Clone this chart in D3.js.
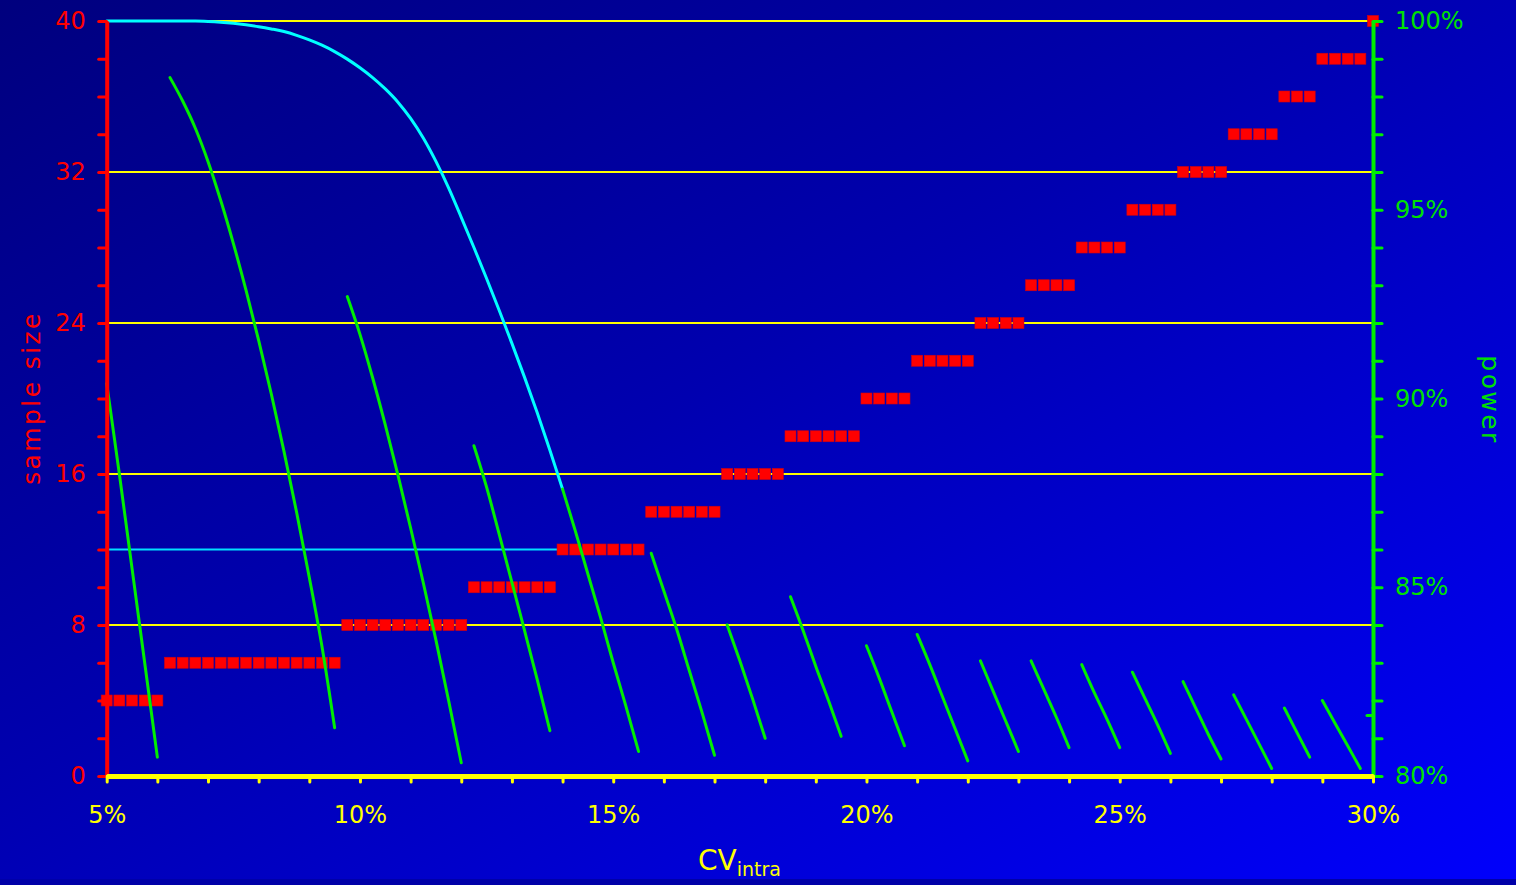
<!DOCTYPE html>
<html>
<head>
<meta charset="utf-8">
<script src="https://cdn.jsdelivr.net/npm/d3@7"></script>
<style>
html,body{margin:0;padding:0;overflow:hidden;background:#000088;}
text{font-family:"DejaVu Sans",Verdana,sans-serif;}
</style>
</head>
<body>
<svg id="chart" width="1516" height="885"></svg>
<script>
// ---------- data ----------
const cvValues = [5,5.25,5.5,5.75,6,6.25,6.5,6.75,7,7.25,7.5,7.75,8,8.25,8.5,8.75,9,9.25,9.5,9.75,
  10,10.25,10.5,10.75,11,11.25,11.5,11.75,12,12.25,12.5,12.75,13,13.25,13.5,13.75,14,14.25,14.5,14.75,
  15,15.25,15.5,15.75,16,16.25,16.5,16.75,17,17.25,17.5,17.75,18,18.25,18.5,18.75,19,19.25,19.5,19.75,
  20,20.25,20.5,20.75,21,21.25,21.5,21.75,22,22.25,22.5,22.75,23,23.25,23.5,23.75,24,24.25,24.5,24.75,
  25,25.25,25.5,25.75,26,26.25,26.5,26.75,27,27.25,27.5,27.75,28,28.25,28.5,28.75,29,29.25,29.5,29.75,30];

const sampleSize = [4,4,4,4,4,
  6,6,6,6,6,6,6,6,6,6,6,6,6,6,
  8,8,8,8,8,8,8,8,8,8,
  10,10,10,10,10,10,10,
  12,12,12,12,12,12,12,
  14,14,14,14,14,14,
  16,16,16,16,16,
  18,18,18,18,18,18,
  20,20,20,20,
  22,22,22,22,22,
  24,24,24,24,
  26,26,26,26,
  28,28,28,28,
  30,30,30,30,
  32,32,32,32,
  34,34,34,34,
  36,36,36,
  38,38,38,38,
  40];

const power = [90.4,88.0,85.5,83.0,80.5,
  98.5,97.88,97.16,96.28,95.25,94.11,92.87,91.54,90.12,88.6,86.98,85.26,83.43,81.28,
  92.7,91.7,90.55,89.3,87.97,86.57,85.12,83.6,82.0,80.35,
  88.75,87.65,86.4,85.13,83.85,82.55,81.2,
  87.6,86.5,85.35,84.2,83.0,81.85,80.65,
  85.9,84.9,83.9,82.8,81.7,80.55,
  84.0,83.05,82.05,81.0,null,
  84.75,83.85,82.9,82.0,81.05,null,
  83.45,82.6,81.7,80.8,
  83.75,82.95,82.1,81.25,80.4,
  83.05,82.25,81.45,80.65,
  83.05,82.3,81.55,80.75,
  82.95,82.2,81.5,80.75,
  82.75,82.05,81.35,80.6,
  82.5,81.8,81.1,80.45,
  82.15,81.5,80.85,80.2,
  81.8,81.15,80.5,
  82.0,81.4,80.8,80.2,
  81.6];

// power with the fixed sample size of 12 (cyan curve), CV 5% .. 14%
const fixedSize = 12;
const fixedSizeCvEnd = 14;
const powerFixed = [100,100,100,100,100,100,100,100,99.99,99.97,99.94,99.9,99.85,99.79,99.72,99.62,
  99.5,99.36,99.19,98.99,98.76,98.5,98.2,97.85,97.42,96.9,96.28,95.58,94.8,94.0,93.18,92.33,
  91.46,90.56,89.62,88.63,87.6];

const cvTicks = [5,6,7,8,9,10,11,12,13,14,15,16,17,18,19,20,21,22,23,24,25,26,27,28,29,30];
const cvLabelled = [5,10,15,20,25,30];
const sampleTicks = [0,2,4,6,8,10,12,14,16,18,20,22,24,26,28,30,32,34,36,38,40];
const sampleLabelled = [0,8,16,24,32,40];
const powerTicks = [80,81,82,83,84,85,86,87,88,89,90,91,92,93,94,95,96,97,98,99,100];
const powerLabelled = [80,85,90,95,100];
const gridValues = [8,16,24,32,40];

// ---------- layout ----------
const W = 1516, H = 885;
const L = 106.7, R = 1373, T = 21, B = 776;
const svg = d3.select("#chart");

const x = d3.scaleLinear().domain([5,30]).range([L,R]);
const yS = d3.scaleLinear().domain([0,40]).range([B,T]);
const yP = d3.scaleLinear().domain([80,100]).range([B,T]);

// background
const defs = svg.append("defs");
const grad = defs.append("linearGradient").attr("id","bg")
  .attr("x1","0").attr("y1","0").attr("x2","1").attr("y2","1");
grad.append("stop").attr("offset","0%").attr("stop-color","#00007e");
grad.append("stop").attr("offset","45%").attr("stop-color","#0000b0");
grad.append("stop").attr("offset","100%").attr("stop-color","#0000fc");
svg.append("rect").attr("width",W).attr("height",H).attr("fill","url(#bg)");
svg.append("rect").attr("x",0).attr("y",879).attr("width",W).attr("height",6).attr("fill","#0000a8");

// grid lines
svg.append("g").selectAll("line").data(gridValues).join("line")
  .attr("x1",L).attr("x2",R).attr("y1",d=>yS(d)).attr("y2",d=>yS(d))
  .attr("stroke","#ffff00").attr("stroke-width",2);

// cyan reference line at fixed sample size
svg.append("line")
  .attr("x1",x(5)).attr("x2",x(fixedSizeCvEnd))
  .attr("y1",yS(fixedSize)).attr("y2",yS(fixedSize))
  .attr("stroke","#00e0ff").attr("stroke-width",2);

// sample size squares
const pts = cvValues.map((cv,i)=>({cv, n:sampleSize[i], p:power[i]}));
const sq = 11;
svg.append("g").selectAll("rect").data(pts).join("rect")
  .attr("x",d=>x(d.cv)-sq/2).attr("y",d=>yS(d.n)-sq/2)
  .attr("width",sq).attr("height",sq)
  .attr("fill","#ff0000").attr("stroke","#d00010").attr("stroke-width",0.6);

// cyan power curve for fixed sample size
const fixedPts = powerFixed.map((p,i)=>({cv:cvValues[i], p}));
const line = d3.line().defined(d=>d.p!=null).x(d=>x(d.cv)).y(d=>yP(d.p)).curve(d3.curveMonotoneX);
svg.append("path").datum(fixedPts).attr("d",line)
  .attr("fill","none").attr("stroke","#00ffff").attr("stroke-width",3).attr("stroke-linecap","round");

// green power curves, one per sample size
const groups = d3.groups(pts, d=>d.n);
const gG = svg.append("g");
groups.forEach(([n, arr])=>{
  const valid = arr.filter(d=>d.p!=null);
  if (valid.length > 1) {
    gG.append("path").datum(arr).attr("d",line)
      .attr("fill","none").attr("stroke","#00ee00").attr("stroke-width",3)
      .attr("stroke-linecap","round");
  } else if (valid.length === 1) {
    const d = valid[0];
    gG.append("line").attr("x1",x(d.cv)-6).attr("x2",x(d.cv)).attr("y1",yP(d.p)).attr("y2",yP(d.p))
      .attr("stroke","#00ee00").attr("stroke-width",3).attr("stroke-linecap","round");
  }
});

// left axis (sample size)
const axL = svg.append("g").attr("transform",`translate(${L},0)`)
  .call(d3.axisLeft(yS).tickValues(sampleTicks).tickSize(8).tickSizeOuter(0).tickPadding(13)
    .tickFormat(d=>sampleLabelled.includes(d)? d : ""));
axL.select(".domain").attr("stroke","#ff0000").attr("stroke-width",4);
axL.selectAll(".tick line").attr("stroke","#ff0000").attr("stroke-width",3).attr("stroke-linecap","round");
axL.selectAll(".tick text").attr("fill","#ff0000").attr("font-size",24)
  .attr("font-family","DejaVu Sans, Verdana, sans-serif");

// right axis (power)
const axR = svg.append("g").attr("transform",`translate(${R},0)`)
  .call(d3.axisRight(yP).tickValues(powerTicks).tickSize(9).tickSizeOuter(0).tickPadding(13)
    .tickFormat(d=>powerLabelled.includes(d)? d+"%" : ""));
axR.select(".domain").attr("stroke","#00ee00").attr("stroke-width",4);
axR.selectAll(".tick line").attr("stroke","#00ee00").attr("stroke-width",3).attr("stroke-linecap","round");
axR.selectAll(".tick text").attr("fill","#00e000").attr("font-size",24)
  .attr("font-family","DejaVu Sans, Verdana, sans-serif");

// bottom axis (CV)
const axB = svg.append("g").attr("transform",`translate(0,${B})`)
  .call(d3.axisBottom(x).tickValues(cvTicks).tickSize(6).tickSizeOuter(0).tickPadding(24)
    .tickFormat(d=>cvLabelled.includes(d)? d+"%" : ""));
axB.select(".domain").attr("stroke","#ffff00").attr("stroke-width",5);
axB.selectAll(".tick line").attr("stroke","#ffff00").attr("stroke-width",3).attr("stroke-linecap","round");
axB.selectAll(".tick text").attr("fill","#ffff00").attr("font-size",24)
  .attr("font-family","DejaVu Sans, Verdana, sans-serif");

// axis titles
svg.append("text").attr("transform","translate(40,398) rotate(-90)")
  .attr("text-anchor","middle").attr("fill","#ff0000").attr("font-size",25)
  .attr("letter-spacing","2.4px").text("sample size");
svg.append("text").attr("transform","translate(1482,400) rotate(90)")
  .attr("text-anchor","middle").attr("fill","#00e000").attr("font-size",25)
  .attr("letter-spacing","2.4px").text("power");
const xt = svg.append("text").attr("x",698).attr("y",870).attr("fill","#ffff00").attr("font-size",28);
xt.append("tspan").text("CV");
xt.append("tspan").attr("font-size",19).attr("dy",6).text("intra");
</script>
</body>
</html>
